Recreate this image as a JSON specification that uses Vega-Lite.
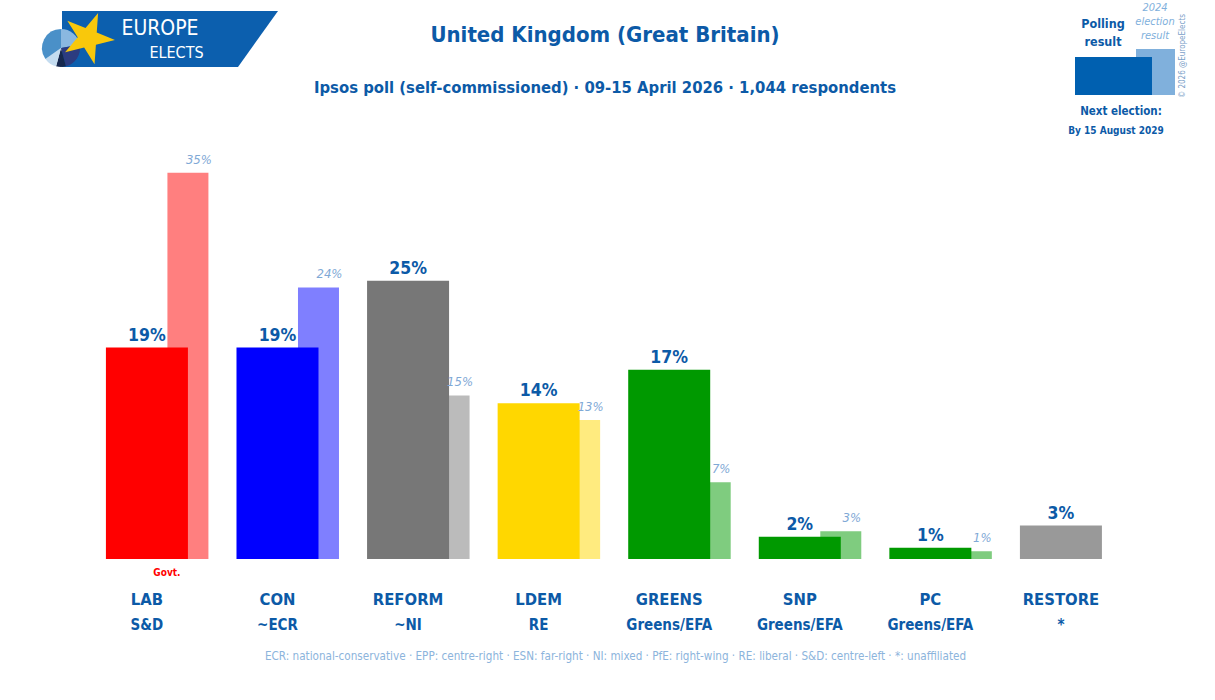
{
  "$schema": "https://vega.github.io/schema/vega-lite/v6.json",
  "padding": 0,
  "spacing": 0,
  "background": "white",
  "config": {
    "view": {"stroke": null},
    "font": "DejaVu Sans Condensed, DejaVu Sans, sans-serif",
    "concat": {"spacing": 0},
    "text": {"font": "DejaVu Sans Condensed, DejaVu Sans, sans-serif"}
  },
  "resolve": {"scale": {"x": "independent", "y": "independent", "color": "independent"}},
  "vconcat": [
    {
      "spacing": 0,
      "resolve": {"scale": {"x": "independent", "y": "independent", "color": "independent"}},
      "hconcat": [
        {
          "width": 285,
          "height": 140,
          "layer": [
            {
              "data": {"values": [
                {"x": 62, "top": 11, "bottom": 67},
                {"x": 238, "top": 11, "bottom": 67},
                {"x": 278, "top": 11, "bottom": 11}
              ]},
              "mark": {"type": "area", "color": "#0c5fae", "opacity": 1},
              "encoding": {
                "x": {"field": "x", "type": "quantitative", "scale": {"domain": [0, 285], "nice": false, "zero": false}, "axis": null},
                "y": {"field": "top", "type": "quantitative", "scale": {"domain": [0, 140], "reverse": true, "nice": false, "zero": false}, "axis": null},
                "y2": {"field": "bottom"}
              }
            },
            {
              "data": {"values": [
                {"s": "light", "v": 80, "i": 1},
                {"s": "indigo", "v": 85, "i": 2},
                {"s": "navy", "v": 30, "i": 3},
                {"s": "pale", "v": 40, "i": 4},
                {"s": "mid", "v": 125, "i": 5}
              ]},
              "mark": {"type": "arc", "outerRadius": 19},
              "encoding": {
                "theta": {"field": "v", "type": "quantitative", "stack": true},
                "order": {"field": "i", "type": "quantitative"},
                "color": {"field": "s", "type": "nominal", "legend": null,
                  "scale": {"domain": ["light", "indigo", "navy", "pale", "mid"], "range": ["#8ab8e0", "#2c3c80", "#16284e", "#c4dcf0", "#4a90c8"]}},
                "x": {"datum": 61, "type": "quantitative"},
                "y": {"datum": 48, "type": "quantitative"}
              }
            },
            {
              "data": {"values": [{"n": "star"}]},
              "mark": {"type": "point", "filled": true, "opacity": 1, "color": "#f9c80b", "size": 2916,
                "shape": "M0.375,-0.927L0.324,-0.202L0.998,0.070L0.293,0.246L0.242,0.970L-0.143,0.354L-0.848,0.530L-0.381,-0.027L-0.766,-0.643L-0.092,-0.371Z"},
              "encoding": {
                "x": {"datum": 88, "type": "quantitative"},
                "y": {"datum": 38, "type": "quantitative"}
              }
            },
            {
              "data": {"values": [{"t": "EUROPE"}]},
              "mark": {"type": "text", "color": "white", "fontSize": 21, "baseline": "middle", "align": "center"},
              "encoding": {
                "text": {"field": "t"},
                "x": {"datum": 160, "type": "quantitative"},
                "y": {"datum": 29, "type": "quantitative"}
              }
            },
            {
              "data": {"values": [{"t": "ELECTS"}]},
              "mark": {"type": "text", "color": "white", "fontSize": 16, "baseline": "middle", "align": "center"},
              "encoding": {
                "text": {"field": "t"},
                "x": {"datum": 176.5, "type": "quantitative"},
                "y": {"datum": 52.5, "type": "quantitative"}
              }
            }
          ]
        },
        {
          "width": 640,
          "height": 140,
          "data": {"values": [{"title": "United Kingdom (Great Britain)", "sub": "Ipsos poll (self-commissioned) · 09-15 April 2026 · 1,044 respondents"}]},
          "layer": [
            {
              "mark": {"type": "text", "fontSize": 22, "fontWeight": "bold", "color": "#0c5aa7", "baseline": "middle", "align": "center", "yOffset": -35},
              "encoding": {"text": {"field": "title"}}
            },
            {
              "mark": {"type": "text", "fontSize": 16.5, "fontWeight": "bold", "color": "#0c5aa7", "baseline": "middle", "align": "center", "yOffset": 18},
              "encoding": {"text": {"field": "sub"}}
            }
          ]
        },
        {
          "width": 290,
          "height": 140,
          "data": {"values": [{"k": "legend", "poll": 0.826, "elect": 1, "pl": "Polling\nresult", "el": "2024\nelection\nresult", "next": "Next election:", "date": "By 15 August 2029", "copy": "© 2026 @EuropeElects"}]},
          "encoding": {
            "x": {"field": "k", "type": "nominal", "scale": {"type": "band", "paddingInner": 0, "paddingOuter": 0.5, "align": 0.8}, "axis": null}
          },
          "layer": [
            {
              "mark": {"type": "bar", "width": {"band": 0.269}, "xOffset": 42, "color": "#80b0dc"},
              "encoding": {"y": {"field": "elect", "type": "quantitative", "scale": {"domain": [-0.978, 2.065], "nice": false, "zero": false}, "axis": null}}
            },
            {
              "mark": {"type": "bar", "width": {"band": 0.531}, "color": "#0060b0"},
              "encoding": {"y": {"field": "poll", "type": "quantitative", "axis": null}}
            },
            {
              "mark": {"type": "text", "fontSize": 12.5, "fontWeight": "bold", "color": "#0c5aa7", "lineBreak": "\n", "lineHeight": 18, "baseline": "middle", "align": "center", "xOffset": -10.5, "yOffset": -46},
              "encoding": {"text": {"field": "pl"}}
            },
            {
              "mark": {"type": "text", "fontSize": 11, "fontStyle": "italic", "color": "#80b0dc", "lineBreak": "\n", "lineHeight": 14, "baseline": "middle", "align": "center", "xOffset": 41.5, "yOffset": -62},
              "encoding": {"text": {"field": "el"}}
            },
            {
              "mark": {"type": "text", "fontSize": 11.5, "fontWeight": "bold", "color": "#0c5aa7", "baseline": "middle", "align": "center", "xOffset": 7.5, "yOffset": 42},
              "encoding": {"text": {"field": "next"}}
            },
            {
              "mark": {"type": "text", "fontSize": 10, "fontWeight": "bold", "color": "#0c5aa7", "baseline": "middle", "align": "center", "xOffset": 2.5, "yOffset": 61},
              "encoding": {"text": {"field": "date"}}
            },
            {
              "mark": {"type": "text", "fontSize": 8, "color": "#7aa0c8", "angle": 270, "baseline": "middle", "align": "center", "xOffset": 69.5, "yOffset": -14},
              "encoding": {"text": {"field": "copy"}}
            }
          ]
        }
      ]
    },
    {
      "width": 1215,
      "height": 419,
      "data": {"name": "parties"},
      "encoding": {
        "x": {"field": "party", "type": "nominal", "sort": null, "axis": null,
          "scale": {"type": "band", "paddingInner": 0, "paddingOuter": 0.6526, "align": 0.479}}
      },
      "layer": [
        {
          "mark": {"type": "bar", "width": {"band": 0.314}, "xOffset": 41, "opacity": 0.5},
          "encoding": {
            "y": {"field": "elect", "type": "quantitative", "axis": null, "scale": {"domain": [0, 0.3765], "nice": false}},
            "color": {"field": "party", "type": "nominal", "legend": null,
              "scale": {"domain": ["LAB", "CON", "REFORM", "LDEM", "GREENS", "SNP", "PC", "RESTORE"],
                "range": ["#ff0000", "#0000ff", "#777777", "#ffd700", "#009900", "#009900", "#009900", "#999999"]}}
          }
        },
        {
          "mark": {"type": "bar", "width": {"band": 0.628}, "opacity": 1},
          "encoding": {
            "y": {"field": "poll", "type": "quantitative", "axis": null},
            "color": {"field": "party", "type": "nominal", "legend": null}
          }
        },
        {
          "mark": {"type": "text", "fontSize": 13, "fontStyle": "italic", "color": "#7fa9d6", "baseline": "alphabetic", "align": "center", "xOffset": 52, "dy": -9},
          "encoding": {
            "y": {"field": "elect", "type": "quantitative"},
            "text": {"field": "elect", "type": "quantitative", "format": ".0%"}
          }
        },
        {
          "mark": {"type": "text", "fontSize": 17.5, "fontWeight": "bold", "color": "#0c5aa7", "baseline": "alphabetic", "align": "center", "dy": -7},
          "encoding": {
            "y": {"field": "poll", "type": "quantitative"},
            "text": {"field": "poll", "type": "quantitative", "format": ".0%"}
          }
        }
      ]
    },
    {
      "width": 1215,
      "height": 141,
      "layer": [
        {
          "data": {"name": "parties"},
          "mark": {"type": "text", "fontSize": 16.5, "fontWeight": "bold", "color": "#0c5aa7", "baseline": "middle", "align": "center", "yOffset": -29.5},
          "encoding": {
            "x": {"field": "party", "type": "nominal", "sort": null, "axis": null,
              "scale": {"type": "band", "paddingInner": 0, "paddingOuter": 0.6526, "align": 0.479}},
            "text": {"field": "party"}
          }
        },
        {
          "data": {"name": "parties"},
          "mark": {"type": "text", "fontSize": 15, "fontWeight": "bold", "color": "#0c5aa7", "baseline": "middle", "align": "center", "yOffset": -4.5},
          "encoding": {
            "x": {"field": "party", "type": "nominal", "sort": null, "axis": null},
            "text": {"field": "group"}
          }
        },
        {
          "data": {"name": "parties"},
          "transform": [{"filter": "isValid(datum.govt)"}],
          "mark": {"type": "text", "fontSize": 10, "fontWeight": "bold", "color": "#ff0000", "baseline": "middle", "align": "center", "xOffset": 20, "yOffset": -56.5},
          "encoding": {
            "x": {"field": "party", "type": "nominal", "sort": null, "axis": null},
            "text": {"field": "govt"}
          }
        },
        {
          "data": {"values": [{"t": "ECR: national-conservative · EPP: centre-right · ESN: far-right · NI: mixed · PfE: right-wing · RE: liberal · S&D: centre-left · *: unaffiliated"}]},
          "mark": {"type": "text", "fontSize": 11.6, "color": "#8cb4dc", "baseline": "middle", "align": "center", "xOffset": 8, "yOffset": 27.5},
          "encoding": {"text": {"field": "t"}}
        }
      ]
    }
  ],
  "datasets": {
    "parties": [
      {"party": "LAB", "group": "S&D", "poll": 0.19, "elect": 0.347, "govt": "Govt."},
      {"party": "CON", "group": "~ECR", "poll": 0.19, "elect": 0.244, "govt": null},
      {"party": "REFORM", "group": "~NI", "poll": 0.25, "elect": 0.147, "govt": null},
      {"party": "LDEM", "group": "RE", "poll": 0.14, "elect": 0.125, "govt": null},
      {"party": "GREENS", "group": "Greens/EFA", "poll": 0.17, "elect": 0.069, "govt": null},
      {"party": "SNP", "group": "Greens/EFA", "poll": 0.02, "elect": 0.025, "govt": null},
      {"party": "PC", "group": "Greens/EFA", "poll": 0.01, "elect": 0.007, "govt": null},
      {"party": "RESTORE", "group": "*", "poll": 0.03, "elect": null, "govt": null}
    ]
  }
}
